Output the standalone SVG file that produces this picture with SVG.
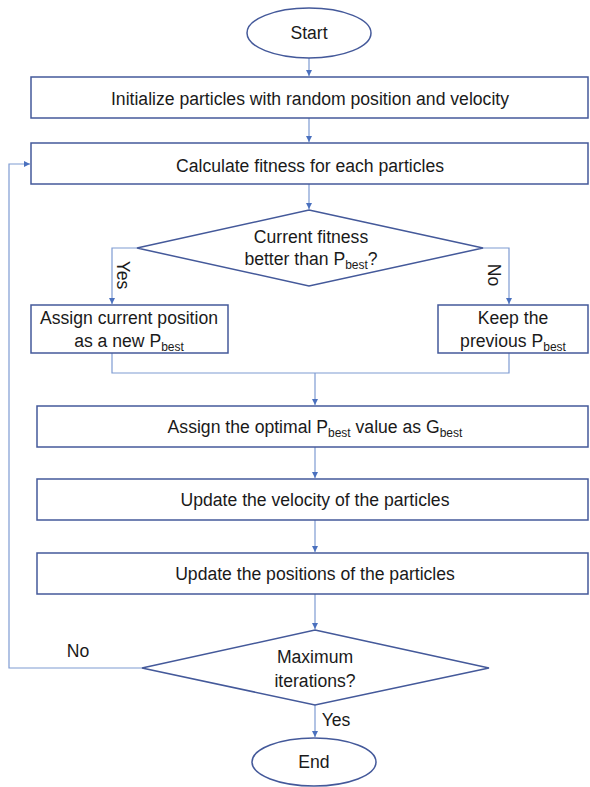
<svg xmlns="http://www.w3.org/2000/svg" width="590" height="787" viewBox="0 0 590 787">
<style>
.s{fill:#fff;stroke:#44599A;stroke-width:1.5}
.c{fill:none;stroke:#7E9BD2;stroke-width:1.2}
text{font-family:"Liberation Sans",Arial,sans-serif;font-size:17.6px;fill:#1a1a1a;text-anchor:middle}
.sub{font-size:12px}
</style>
<defs>
<marker id="a" markerWidth="8" markerHeight="8" refX="6" refY="4" orient="auto" markerUnits="userSpaceOnUse">
<path d="M0,1 L6,4 L0,7 z" fill="#4A70BE"/>
</marker>
</defs>
<rect width="590" height="787" fill="#fff"/>
<g id="connectors">
<path class="c" d="M309,58 V76" marker-end="url(#a)"/>
<path class="c" d="M309,118 V142" marker-end="url(#a)"/>
<path class="c" d="M309,184 V209" marker-end="url(#a)"/>
<path class="c" d="M137,248 H112 V304" marker-end="url(#a)"/>
<path class="c" d="M483,248 H509 V304" marker-end="url(#a)"/>
<path class="c" d="M112,353 V373 H509 V353"/>
<path class="c" d="M315,373 V405" marker-end="url(#a)"/>
<path class="c" d="M315,447 V478" marker-end="url(#a)"/>
<path class="c" d="M315,520 V552" marker-end="url(#a)"/>
<path class="c" d="M315,594 V629" marker-end="url(#a)"/>
<path class="c" d="M142,668 H9 V164 H30" marker-end="url(#a)"/>
<path class="c" d="M315,705 V737" marker-end="url(#a)"/>
<text x="123" y="275" transform="rotate(90 123 275)" dy="6">Yes</text>
<text x="494" y="275" transform="rotate(90 494 275)" dy="6">No</text>
<text x="78" y="657">No</text>
<text x="336" y="726">Yes</text>
</g>
<g id="start">
<ellipse class="s" cx="309" cy="33" rx="62" ry="25"/>
<text x="309" y="39">Start</text>
</g>
<g id="init">
<rect class="s" x="31" y="77" width="557" height="41"/>
<text x="310" y="105">Initialize particles with random position and velocity</text>
</g>
<g id="fitness">
<rect class="s" x="31" y="143" width="557" height="41"/>
<text x="310" y="172">Calculate fitness for each particles</text>
</g>
<g id="decision1">
<polygon class="s" points="309,210 483,248 309,286 137,248"/>
<text x="311" y="243">Current fitness</text>
<text x="311" y="265">better than P<tspan class="sub" dy="4">best</tspan><tspan dy="-4">?</tspan></text>
</g>
<g id="assign">
<rect class="s" x="31" y="305" width="197" height="48"/>
<text x="129" y="324">Assign current position</text>
<text x="129" y="347">as a new P<tspan class="sub" dy="4">best</tspan></text>
</g>
<g id="keep">
<rect class="s" x="438" y="305" width="150" height="48"/>
<text x="513" y="324">Keep the</text>
<text x="513" y="347">previous P<tspan class="sub" dy="4">best</tspan></text>
</g>
<g id="gbest">
<rect class="s" x="37" y="406" width="551" height="41"/>
<text x="315" y="433">Assign the optimal P<tspan class="sub" dy="4">best</tspan><tspan dy="-4"> value as G</tspan><tspan class="sub" dy="4">best</tspan></text>
</g>
<g id="velocity">
<rect class="s" x="37" y="479" width="551" height="41"/>
<text x="315" y="506">Update the velocity of the particles</text>
</g>
<g id="positions">
<rect class="s" x="37" y="553" width="551" height="41"/>
<text x="315" y="580">Update the positions of the particles</text>
</g>
<g id="decision2">
<polygon class="s" points="315,630 489,668 315,705 142,668"/>
<text x="315" y="663">Maximum</text>
<text x="315" y="687">iterations?</text>
</g>
<g id="end">
<ellipse class="s" cx="314" cy="762" rx="62" ry="24"/>
<text x="314" y="768">End</text>
</g>
</svg>
